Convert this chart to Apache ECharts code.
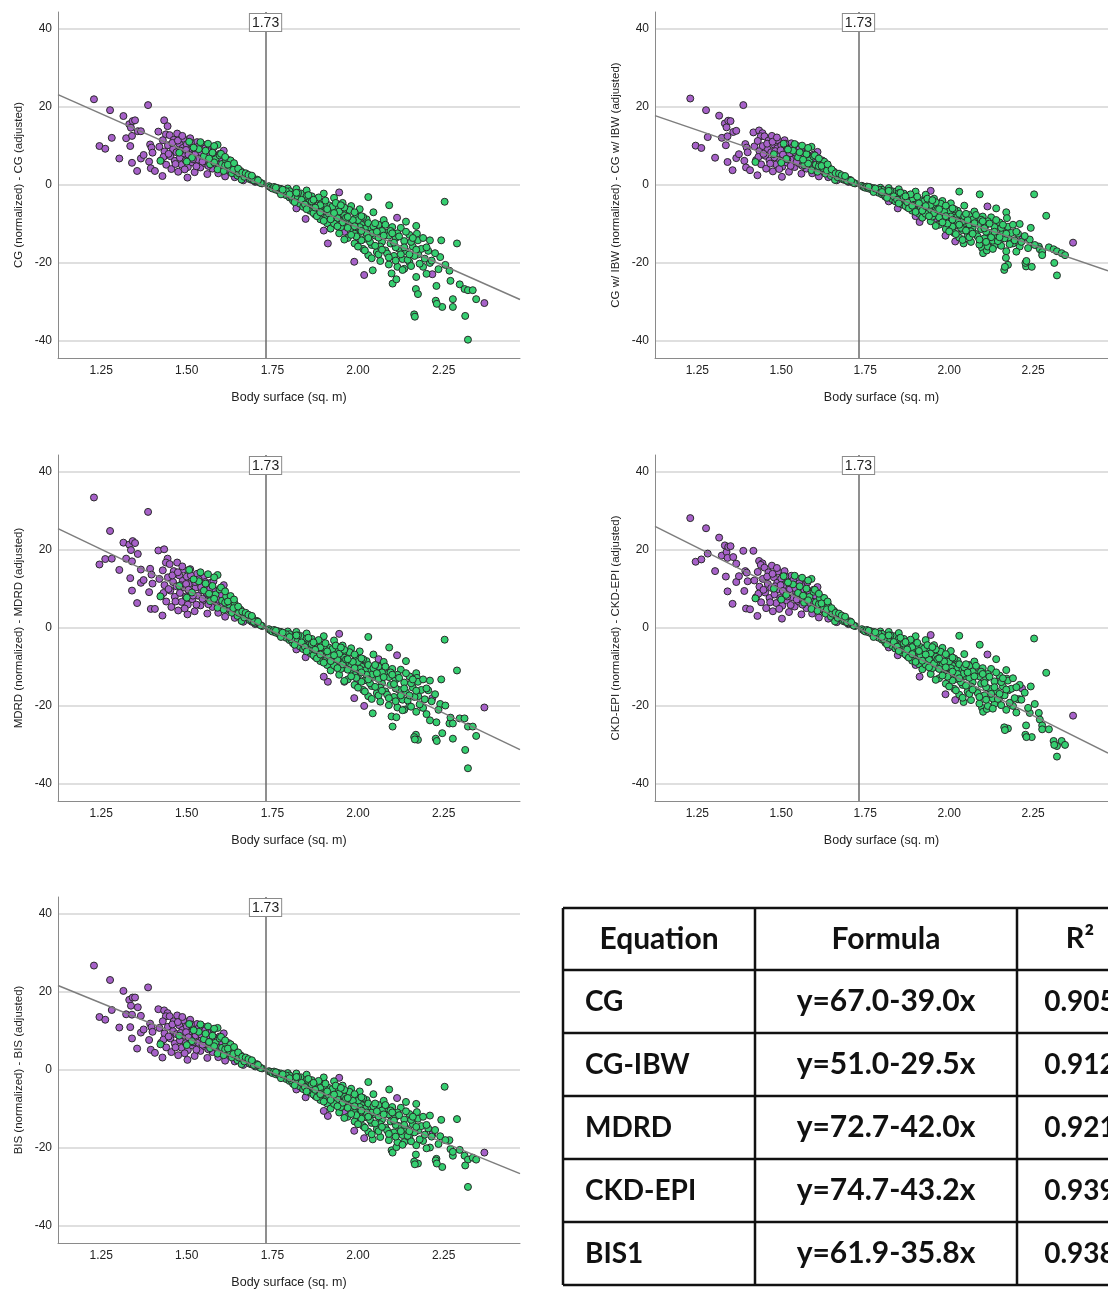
<!DOCTYPE html>
<html>
<head>
<meta charset="utf-8">
<script src="https://cdn.jsdelivr.net/npm/echarts@6/dist/echarts.min.js"></script>
<style>
html,body{margin:0;padding:0;background:#fff;}
#chart{width:1108px;height:1292px;}
</style>
</head>
<body>
<div id="chart"></div>
<script>
// ---------------- DATA ----------------
const xTickValues = [1.25, 1.50, 1.75, 2.00, 2.25];
const yTickValues = [-40, -20, 0, 20, 40];
const refBSA = 1.73;
const xLabel = 'Body surface (sq. m)';
const yLabels = [
  'CG (normalized) - CG (adjusted)',
  'CG w/ IBW (normalized) - CG w/ IBW (adjusted)',
  'MDRD (normalized) - MDRD (adjusted)',
  'CKD-EPI (normalized) - CKD-EPI (adjusted)',
  'BIS (normalized) - BIS (adjusted)'
];

// fit line end values (at the left / right plot edges)
const fitX = [1.124, 2.473];
const fitCG = [23.2, -29.4];
const fitIBW = [17.8, -22.0];
const fitMDRD = [25.5, -31.2];
const fitCKD = [26.1, -32.1];
const fitBIS = [21.7, -26.6];

// table
const tableHeaders = ['Equation', 'Formula', 'R²'];
const tableEquations = ['CG', 'CG-IBW', 'MDRD', 'CKD-EPI', 'BIS1'];
const tableFormulas = ['y=67.0-39.0x', 'y=51.0-29.5x', 'y=72.7-42.0x', 'y=74.7-43.2x', 'y=61.9-35.8x'];
const tableR2 = ['0.905', '0.912', '0.921', '0.939', '0.938'];

// female (purple) patients
const femaleBSA = [
 1.229,1.245,1.262,1.276,1.281,1.303,1.315,1.323,1.332,1.337,1.342,1.335,1.340,1.340,1.349,1.355,1.357,1.366,1.366,1.374,1.387,1.390,1.393,1.397,1.400,1.395,1.407,1.417,1.429,1.434,1.444,1.439,1.502,
 1.420,1.425,1.430,1.435,1.440,1.445,1.450,1.452,1.455,1.460,1.462,1.465,1.470,1.472,1.475,1.478,1.480,1.485,1.488,1.490,1.493,1.497,1.500,1.503,1.506,1.510,1.513,1.516,1.520,1.523,1.526,1.530,1.533,1.537,1.540,1.544,1.548,1.552,1.556,1.560,1.565,1.570,1.575,1.580,1.586,1.592,1.598,1.605,1.612,1.608,1.628,1.640,1.655,1.665,1.690,
 1.680,1.700,
 2.114,1.912,1.989,2.018,2.217,2.369,1.847,1.820,1.900,1.945,2.000,1.960,2.060,
 1.432,1.447,1.458,1.467,1.474,1.482,1.487,1.494,1.498,1.505,1.512,1.518,1.524,1.528,1.535,1.542,1.546,1.554,1.558,1.563,1.568,1.573,1.578,1.584,1.590,1.596,1.602,1.618,1.622,1.635
];
const femaleCG = [
 22.0,10.0,9.3,19.2,12.1,6.8,17.7,12.0,15.6,14.7,16.4,10.0,12.6,5.7,16.6,3.6,13.8,13.8,6.8,7.7,20.5,6.0,10.4,9.6,8.3,4.3,3.6,13.7,2.3,16.6,15.1,13.0,1.9,
 9.8,6.3,11.5,8.6,5.2,10.2,12.8,7.4,4.1,9.2,11.6,6.2,8.4,13.2,3.4,10.6,7.0,5.2,9.5,11.9,8.1,6.3,10.4,4.6,8.9,12.0,7.2,5.8,9.8,3.3,8.2,11.0,6.5,9.1,4.5,7.6,10.3,5.6,8.4,2.8,6.9,9.2,4.2,7.4,5.3,3.0,6.4,4.6,2.2,8.8,3.5,2.0,3.1,1.2,1.3,
 2.2,0.8,
 -8.4,-15.0,-19.7,-23.1,-22.9,-30.3,-8.7,-6.0,-11.7,-1.9,-14.5,-12.0,-16.0,
 7.2,8.0,10.8,5.4,11.4,8.8,12.6,4.0,9.0,7.8,10.8,6.6,9.4,4.8,10.0,8.4,6.0,9.4,7.2,4.9,8.0,6.0,9.6,7.6,5.8,8.0,6.8,4.0,6.4,4.6
];
const femaleIBW = [
 22.2,10.1,9.5,19.2,12.3,7.0,17.8,12.1,15.8,14.8,16.5,10.2,12.5,5.9,16.4,3.8,13.6,13.9,6.9,7.9,20.5,6.2,10.5,9.6,8.4,4.5,3.8,13.5,2.5,14.0,13.3,12.5,2.1,
 9.9,6.4,11.3,8.7,5.3,10.0,12.5,7.5,4.2,9.1,11.4,6.3,8.4,12.6,3.5,10.4,7.1,5.3,9.4,11.5,8.1,6.3,10.2,4.7,8.8,11.5,7.2,5.8,9.6,3.4,8.1,10.7,6.5,8.9,4.6,7.5,10.0,5.6,8.2,2.9,6.8,8.9,4.2,7.2,5.2,3.0,6.2,4.5,2.2,8.5,3.4,2.0,3.0,1.2,1.3,
 2.2,0.8,
 -5.5,-9.5,-13.0,-14.5,-14.0,-14.8,-6.0,-4.2,-8.0,-1.5,-10.0,-8.5,-11.0,
 7.2,8.0,10.6,5.5,11.1,8.7,12.2,4.1,8.9,7.8,10.6,6.6,9.3,4.9,9.8,8.3,6.0,9.2,7.1,4.9,7.9,6.0,9.4,7.5,5.8,7.8,6.7,4.0,6.3,4.5
];
const femaleMDRD = [
 33.5,16.3,17.7,24.9,17.8,14.9,21.9,17.8,21.4,20.0,22.3,12.8,17.1,9.6,21.8,6.4,19.0,15.0,11.6,12.3,29.8,9.2,15.2,13.7,11.4,4.9,4.9,19.9,3.2,20.2,17.8,16.8,3.5,
 12.6,8.3,14.8,11.0,6.8,13.0,16.4,9.6,5.4,11.8,14.6,8.0,10.7,16.8,4.5,13.5,9.0,6.7,12.1,15.0,10.4,8.1,13.2,6.0,11.3,15.1,9.2,7.4,12.4,4.3,10.4,13.9,8.3,11.5,5.8,9.7,13.0,7.2,10.6,3.7,8.7,11.6,5.4,9.3,6.7,3.9,8.1,5.8,2.9,11.0,4.4,2.6,3.9,1.6,1.6,
 2.9,1.0,
 -7.0,-13.8,-18.0,-20.0,-18.0,-20.4,-7.5,-5.5,-12.5,-1.5,-13.5,-13.8,-8.0,
 9.0,10.0,13.5,6.8,14.3,11.0,15.8,5.0,11.3,9.8,13.5,8.3,11.8,6.0,12.5,10.5,7.5,11.8,9.0,6.1,10.0,7.5,12.0,9.5,7.3,10.0,8.5,5.0,8.0,5.8
];
const femaleCKD = [
 28.2,17.0,17.6,25.6,19.1,14.6,23.2,18.6,21.2,19.5,20.8,13.2,18.0,9.4,21.0,6.2,18.2,16.5,11.8,13.3,19.8,9.5,14.6,14.2,12.0,5.0,4.8,19.8,3.1,17.2,16.6,16.2,2.4,
 12.2,7.9,14.4,10.6,6.6,12.6,15.5,9.1,5.1,11.3,14.3,7.7,10.3,16.0,4.3,13.0,8.6,6.4,11.6,14.5,9.9,7.7,12.7,5.7,10.9,14.6,8.8,7.1,11.9,4.1,10.0,13.4,7.9,11.1,5.5,9.3,12.6,6.8,10.2,3.5,8.4,11.1,5.1,9.0,6.4,3.7,7.7,5.5,2.7,10.5,4.2,2.4,3.7,1.5,1.6,
 2.7,1.0,
 -6.8,-12.5,-17.0,-18.5,-15.5,-22.5,-7.0,-5.0,-9.5,-1.8,-12.0,-10.0,-9.5,
 8.8,9.8,13.2,6.6,13.9,10.7,15.4,4.9,11.0,9.5,13.2,8.1,11.5,5.9,12.2,10.2,7.3,11.5,8.8,6.0,9.8,7.3,11.7,9.3,7.1,9.8,8.3,4.9,7.8,5.6
];
const femaleBIS = [
 26.8,13.6,12.9,23.1,15.4,10.9,20.3,14.3,18.0,16.5,18.6,11.0,14.2,8.1,18.6,5.5,16.1,13.9,9.6,10.4,21.2,7.7,11.9,11.0,9.8,5.2,4.4,15.6,3.2,15.3,14.6,13.8,2.6,
 10.8,7.0,12.5,9.4,5.8,11.1,13.8,8.1,4.6,10.0,12.5,6.8,9.2,14.0,3.8,11.5,7.6,5.7,10.3,12.8,8.8,6.9,11.2,5.1,9.6,12.9,7.8,6.3,10.6,3.6,8.9,11.8,7.0,9.8,4.9,8.2,11.1,6.1,9.0,3.1,7.4,9.9,4.6,8.0,5.7,3.3,6.9,5.0,2.4,9.4,3.8,2.2,3.3,1.3,1.4,
 2.4,0.9,
 -7.2,-11.8,-15.6,-17.5,-16.5,-21.2,-7.0,-5.0,-10.5,-2.0,-12.8,-11.0,-10.0,
 7.8,8.6,11.7,5.8,12.3,9.5,13.6,4.3,9.7,8.4,11.7,7.1,10.2,5.2,10.8,9.1,6.5,10.2,7.8,5.3,8.6,6.5,10.4,8.2,6.3,8.6,7.3,4.3,6.9,5.0
];

// male (green) patients
const maleBSA = [
 1.423,1.478,1.507,1.515,1.535,1.550,1.562,1.568,1.575,1.584,1.590,1.596,1.603,1.608,1.615,1.623,1.632,1.640,1.648,1.657,1.665,1.676,1.684,1.692,1.700,1.705,1.712,1.720,1.660,1.644,1.590,1.628,
 1.636,1.652,1.668,1.688,1.696,1.716,1.580,1.612,
 2.253,2.030,2.091,2.140,2.170,2.172,2.210,2.243,2.289, 2.043,2.098,2.101,2.112,2.170,2.169,2.175,2.164,2.166,
 2.210,2.229,2.227,2.246,2.267,2.270,2.277,2.277,2.297,2.311,2.321,2.335,2.345, 2.313,2.321,2.176,2.205,2.240,2.150,2.135,2.190, 2.230,
 1.740,1.745,1.750,1.755,1.760,1.765,1.770,1.775,1.780,1.785,
 1.790,1.795,1.800,1.805,1.810,1.815,1.820,1.825,1.830,1.835,
 1.840,1.845,1.850,1.855,1.860,1.865,1.870,1.875,1.880,1.885,
 1.890,1.895,1.900,1.905,1.910,1.915,1.920,1.925,1.930,1.935,
 1.940,1.945,1.950,1.955,1.960,1.965,1.970,1.975,1.980,1.985,
 1.990,1.995,2.000,2.005,2.010,2.015,2.020,2.025,2.030,2.035,
 2.040,2.045,2.050,2.055,2.060,2.065,2.070,2.075,2.080,2.085,
 2.090,2.095,2.100,2.105,2.110,2.115,2.120,2.125,2.130,2.135,
 2.140,2.150,2.155,2.160,2.165,2.175,2.180,2.185,2.195,2.200,
 2.215,2.225,2.235,2.255,1.860,1.880,1.900,1.920,1.940,1.960,
 1.980,2.000,2.020,2.040,2.060,1.970,1.990,2.010,1.930,1.910,
 1.890,1.870,1.950,2.030,2.070,2.090,2.110,1.820,1.800,1.850,
 1.775,1.790,1.805,1.815,1.825,1.835,1.845,1.855,1.865,1.875,
 1.885,1.895,1.905,1.915,1.925,1.935,1.945,1.955,1.965,1.975,
 1.985,1.995,2.005,2.015,2.025,2.035,2.045,2.055,2.065,2.075,
 2.085,2.095,2.105,2.115,2.125,2.135,2.145,2.155,2.170,2.190,
 1.880,1.900,1.920,1.940,1.960,1.980,2.000,2.020,2.040,2.060,
 1.960,1.990,2.010,2.050,2.080,2.100,2.120,2.140,2.160,2.200,
 1.850,1.870,1.890,1.910,1.930,1.950,1.970,1.990,2.010,2.030,
 2.050,2.070,2.090,2.110,2.130,2.150,1.760,1.780,1.800,1.820,
 1.520,1.540,1.555,1.565,1.580,1.600,1.612,1.620,1.638,1.650,1.662,1.672,1.680,1.690,1.708,1.500
];
const maleCG = [
 6.2,8.3,11.1,7.0,9.2,7.4,10.6,5.3,8.3,6.6,4.0,7.6,5.4,3.6,6.2,4.6,3.0,4.8,2.4,3.6,2.6,2.3,1.5,2.0,1.0,1.4,0.7,0.4,1.4,3.6,10.3,6.3,
 3.9,3.0,2.1,1.6,1.2,0.5,5.8,5.0,
 -4.3,-3.1,-5.2,-9.4,-10.5,-12.5,-14.2,-14.2,-15.0, -21.9,-22.7,-25.3,-24.2,-23.6,-26.7,-28.0,-33.2,-33.8,
 -20.0,-25.9,-29.7,-31.3,-22.0,-24.6,-29.3,-31.3,-25.5,-26.7,-27.0,-27.0,-29.3, -33.6,-39.7,-17.8,-16.9,-18.5,-19.8,-21.5,-21.0, -30.5,
 -0.3,-0.6,-0.9,-0.5,-1.2,-0.8,-1.6,-1.0,-2.0,-1.4,
 -2.6,-0.9,-3.2,-1.9,-4.0,-2.6,-1.0,-3.4,-4.8,-2.2,
 -5.6,-3.8,-1.4,-4.6,-6.6,-2.9,-5.4,-7.6,-3.6,-6.2,
 -8.8,-4.4,-2.2,-7.0,-9.8,-5.2,-11.2,-7.8,-3.3,-9.0,
 -6.0,-12.4,-8.2,-4.6,-10.4,-7.0,-13.6,-9.4,-5.4,-11.6,
 -15.0,-8.0,-12.6,-6.2,-10.2,-16.4,-13.8,-8.8,-18.0,-11.4,
 -15.4,-7.0,-13.0,-17.2,-10.2,-19.5,-14.6,-9.0,-16.8,-12.2,
 -20.4,-15.0,-10.8,-18.2,-13.6,-21.0,-16.4,-11.0,-19.0,-14.4,
 -17.0,-12.8,-20.8,-15.8,-18.2,-14.2,-20.2,-16.4,-18.9,-22.8,
 -19.4,-17.5,-21.6,-20.5,-4.0,-6.0,-5.0,-6.5,-8.5,-7.8,
 -10.0,-9.0,-11.2,-12.4,-13.5,-11.0,-12.5,-14.2,-9.9,-8.0,
 -5.2,-7.2,-10.8,-9.8,-11.8,-13.0,-16.0,-3.0,-1.6,-2.8,
 -2.4,-1.6,-3.0,-4.4,-2.0,-3.8,-5.0,-2.6,-4.2,-5.8,
 -3.2,-6.8,-4.0,-7.4,-5.6,-4.6,-6.8,-9.6,-8.4,-6.4,
 -9.0,-13.2,-10.8,-8.2,-12.4,-14.6,-10.6,-12.0,-15.8,-13.0,
 -17.6,-11.8,-14.8,-12.4,-17.8,-16.0,-19.2,-14.6,-16.6,-13.6,
 -8.0,-9.2,-8.8,-10.6,-14.0,-12.8,-15.8,-16.8,-18.8,-17.8,
 -5.8,-7.0,-8.0,-9.8,-10.2,-12.4,-13.2,-12.0,-13.6,-16.0,
 -6.2,-3.8,-7.0,-6.2,-7.2,-5.2,-8.2,-10.6,-11.8,-13.6,
 -15.6,-16.6,-18.6,-19.4,-21.8,-17.8,-0.7,-1.2,-2.4,-2.0,
 9.6,11.0,8.8,6.8,10.0,8.0,7.2,5.2,5.6,4.2,3.2,3.0,2.6,2.4,1.2,6.0
];
const maleIBW = [
 5.9,7.9,10.6,6.7,8.8,7.1,10.1,5.1,7.9,6.3,3.8,7.3,5.2,3.4,5.9,4.4,2.9,4.6,2.3,3.4,2.5,2.2,1.4,1.9,1.0,1.3,0.7,0.4,1.3,3.4,9.8,6.0,
 3.7,2.9,2.0,1.5,1.1,0.5,5.5,4.8,
 -2.4,-1.7,-2.4,-6.0,-7.0,-8.5,-10.0,-11.0,-7.9, -15.0,-16.2,-17.5,-16.8,-17.0,-18.7,-20.5,-21.8,-21.0,
 -15.8,-20.9,-20.0,-21.0,-15.8,-16.5,-17.2,-18.0,-16.0,-16.5,-17.0,-17.5,-18.0, -20.0,-23.2,-13.5,-12.5,-14.0,-14.5,-15.5,-15.0, -19.5,
 -0.2,-0.5,-0.7,-0.4,-0.9,-0.6,-1.2,-0.8,-1.5,-1.1,
 -2.0,-0.7,-2.4,-1.4,-3.0,-2.0,-0.8,-2.6,-3.6,-1.7,
 -4.2,-2.9,-1.1,-3.5,-5.0,-2.2,-4.1,-5.7,-2.7,-4.7,
 -6.6,-3.3,-1.7,-5.3,-7.4,-3.9,-8.4,-5.9,-2.5,-6.8,
 -4.5,-9.3,-6.2,-3.5,-7.8,-5.3,-10.2,-7.1,-4.1,-8.7,
 -11.3,-6.0,-9.5,-4.7,-7.7,-12.3,-10.4,-6.6,-13.5,-8.6,
 -11.6,-5.3,-9.8,-12.9,-7.7,-14.6,-11.0,-6.8,-12.6,-9.2,
 -15.3,-11.3,-8.1,-13.7,-10.2,-15.8,-12.3,-8.3,-14.3,-10.8,
 -12.8,-9.6,-15.6,-11.9,-13.7,-10.7,-15.2,-12.3,-14.2,-17.1,
 -14.6,-13.1,-16.2,-15.4,-3.0,-4.5,-3.8,-4.9,-6.4,-5.9,
 -7.5,-6.8,-8.4,-9.3,-10.1,-8.3,-9.4,-10.7,-7.4,-6.0,
 -3.9,-5.4,-8.1,-7.4,-8.9,-9.8,-12.0,-2.3,-1.2,-2.1,
 -1.8,-1.2,-2.3,-3.3,-1.5,-2.9,-3.8,-2.0,-3.2,-4.4,
 -2.4,-5.1,-3.0,-5.6,-4.2,-3.5,-5.1,-7.2,-6.3,-4.8,
 -6.8,-9.9,-8.1,-6.2,-9.3,-11.0,-8.0,-9.0,-11.9,-9.8,
 -13.2,-8.9,-11.1,-9.3,-13.4,-12.0,-14.4,-11.0,-12.5,-10.2,
 -6.0,-6.9,-6.6,-8.0,-10.5,-9.6,-11.9,-12.6,-14.1,-13.4,
 -4.4,-5.3,-6.0,-7.4,-7.7,-9.3,-9.9,-9.0,-10.2,-12.0,
 -4.7,-2.9,-5.3,-4.7,-5.4,-3.9,-6.2,-8.0,-8.9,-10.2,
 -11.7,-12.5,-14.0,-14.6,-16.4,-13.4,-0.5,-0.9,-1.8,-1.5,
 9.1,10.5,8.4,6.5,9.5,7.6,6.8,4.9,5.3,4.0,3.0,2.9,2.5,2.3,1.1,5.7
];
const maleMDRD = [
 8.1,10.8,14.9,9.1,12.0,9.6,13.8,6.9,10.8,8.6,5.2,9.9,7.0,4.7,8.1,6.0,3.9,6.2,3.1,4.7,3.4,3.0,2.0,2.6,1.3,1.8,0.9,0.5,1.8,4.7,13.6,8.2,
 5.1,3.9,2.7,2.1,1.6,0.7,7.5,6.5,
 -3.0,-2.3,-5.0,-8.5,-11.6,-12.8,-13.5,-13.2,-10.9, -21.9,-22.7,-25.3,-22.9,-21.5,-27.4,-28.7,-28.0,-28.6,
 -23.7,-24.2,-28.4,-27.0,-24.5,-23.0,-28.4,-24.5,-23.2,-23.2,-25.3,-25.3,-27.7, -31.3,-36.0,-17.5,-16.0,-19.5,-20.0,-21.0,-20.5, -29.0,
 -0.3,-0.6,-0.9,-0.5,-1.2,-0.8,-1.6,-1.0,-1.9,-1.4,
 -2.5,-0.9,-3.1,-1.8,-3.9,-2.5,-1.0,-3.3,-4.7,-2.1,
 -5.4,-3.7,-1.4,-4.5,-6.4,-2.8,-5.2,-7.4,-3.5,-6.0,
 -8.5,-4.3,-2.1,-6.8,-9.5,-5.0,-10.9,-7.6,-3.2,-8.7,
 -5.8,-12.0,-8.0,-4.5,-10.1,-6.8,-13.2,-9.1,-5.2,-11.3,
 -14.6,-7.8,-12.2,-6.0,-9.9,-15.9,-13.4,-8.5,-17.5,-11.1,
 -14.9,-6.8,-12.6,-16.7,-9.9,-18.9,-14.2,-8.7,-16.3,-11.8,
 -19.8,-14.6,-10.5,-17.7,-13.2,-20.4,-15.9,-10.7,-18.4,-14.0,
 -16.5,-12.4,-20.2,-15.3,-17.7,-13.8,-19.6,-15.9,-18.3,-22.1,
 -18.8,-17.0,-21.0,-19.9,-3.9,-5.8,-4.9,-6.3,-8.2,-7.6,
 -9.7,-8.7,-10.9,-12.0,-13.1,-10.7,-12.1,-13.8,-9.6,-7.8,
 -5.0,-7.0,-10.5,-9.5,-11.4,-12.6,-15.5,-2.9,-1.6,-2.7,
 -2.3,-1.6,-2.9,-4.3,-1.9,-3.7,-4.9,-2.5,-4.1,-5.6,
 -3.1,-6.6,-3.9,-7.2,-5.4,-4.5,-6.6,-9.3,-8.1,-6.2,
 -8.7,-12.8,-10.5,-8.0,-12.0,-14.2,-10.3,-11.6,-15.3,-12.6,
 -17.1,-11.4,-14.4,-12.0,-17.3,-15.5,-18.6,-14.2,-16.1,-13.2,
 -7.8,-8.9,-8.5,-10.3,-13.6,-12.4,-15.3,-16.3,-18.2,-17.3,
 -5.6,-6.8,-7.8,-9.5,-9.9,-12.0,-12.8,-11.6,-13.2,-15.5,
 -6.0,-3.7,-6.8,-6.0,-7.0,-5.0,-8.0,-10.3,-11.4,-13.2,
 -15.1,-16.1,-18.0,-18.8,-21.1,-17.3,-0.7,-1.2,-2.3,-1.9,
 12.5,14.3,11.4,8.8,13.0,10.4,9.4,6.8,7.3,5.5,4.2,3.9,3.4,3.1,1.6,7.8
];
const maleCKD = [
 7.6,10.1,13.3,8.5,11.2,9.0,12.9,6.5,10.1,8.0,4.9,9.3,6.6,4.4,7.6,5.6,3.7,5.9,2.9,4.4,3.2,2.8,1.8,2.4,1.2,1.7,0.9,0.5,1.7,4.4,12.6,7.7,
 4.8,3.7,2.6,2.0,1.5,0.6,7.1,6.1,
 -2.7,-2.0,-4.3,-8.0,-10.8,-13.0,-14.6,-15.0,-11.5, -19.0,-20.5,-21.5,-20.8,-21.0,-25.8,-25.8,-25.5,-26.2,
 -18.3,-25.0,-27.4,-28.0,-21.8,-23.5,-25.0,-26.0,-26.0,-29.0,-30.3,-29.0,-30.0, -30.0,-33.0,-16.0,-18.3,-21.8,-18.0,-19.5,-20.0, -28.0,
 -0.3,-0.6,-0.9,-0.5,-1.1,-0.8,-1.5,-1.0,-1.9,-1.3,
 -2.5,-0.9,-3.0,-1.8,-3.8,-2.5,-1.0,-3.2,-4.6,-2.1,
 -5.3,-3.6,-1.3,-4.4,-6.3,-2.8,-5.1,-7.2,-3.4,-5.9,
 -8.4,-4.2,-2.1,-6.7,-9.3,-4.9,-10.6,-7.4,-3.1,-8.6,
 -5.7,-11.8,-7.8,-4.4,-9.9,-6.7,-12.9,-8.9,-5.1,-11.0,
 -14.3,-7.6,-12.0,-5.9,-9.7,-15.6,-13.1,-8.4,-17.1,-10.8,
 -14.6,-6.7,-12.4,-16.3,-9.7,-18.5,-13.9,-8.6,-16.0,-11.6,
 -19.4,-14.3,-10.3,-17.3,-12.9,-20.0,-15.6,-10.5,-18.1,-13.7,
 -16.2,-12.2,-19.8,-15.0,-17.3,-13.5,-19.2,-15.6,-18.0,-21.7,
 -18.4,-16.6,-20.5,-19.5,-3.8,-5.7,-4.8,-6.2,-8.1,-7.4,
 -9.5,-8.6,-10.6,-11.8,-12.8,-10.5,-11.9,-13.5,-9.4,-7.6,
 -4.9,-6.8,-10.3,-9.3,-11.2,-12.4,-15.2,-2.9,-1.5,-2.7,
 -2.3,-1.5,-2.9,-4.2,-1.9,-3.6,-4.8,-2.5,-4.0,-5.5,
 -3.0,-6.5,-3.8,-7.0,-5.3,-4.4,-6.5,-9.1,-8.0,-6.1,
 -8.6,-12.5,-10.3,-7.8,-11.8,-13.9,-10.1,-11.4,-15.0,-12.4,
 -16.7,-11.2,-14.1,-11.8,-16.9,-15.2,-18.2,-13.9,-15.8,-12.9,
 -7.6,-8.7,-8.4,-10.1,-13.3,-12.2,-15.0,-16.0,-17.9,-16.9,
 -5.5,-6.7,-7.6,-9.3,-9.7,-11.8,-12.5,-11.4,-12.9,-15.2,
 -5.9,-3.6,-6.7,-5.9,-6.8,-4.9,-7.8,-10.1,-11.2,-12.9,
 -14.8,-15.8,-17.7,-18.4,-20.7,-16.9,-0.7,-1.1,-2.3,-1.9,
 11.7,13.4,10.7,8.3,12.2,9.8,8.8,6.3,6.8,5.1,3.9,3.7,3.2,2.9,1.5,7.3
];
const maleBIS = [
 6.6,8.8,11.8,7.4,9.8,7.9,11.2,5.6,8.8,7.0,4.2,8.1,5.7,3.8,6.6,4.9,3.2,5.1,2.5,3.8,2.8,2.4,1.6,2.1,1.1,1.5,0.7,0.4,1.5,3.8,10.8,6.6,
 4.1,3.2,2.2,1.7,1.3,0.5,6.1,5.3,
 -4.3,-3.1,-5.0,-8.2,-8.7,-10.8,-11.7,-12.8,-12.6, -17.8,-20.6,-21.2,-19.8,-19.3,-21.7,-24.0,-23.5,-24.2,
 -19.9,-22.8,-23.2,-24.9,-18.0,-20.3,-22.0,-21.0,-20.5,-22.0,-23.0,-22.5,-23.0, -24.5,-30.0,-15.5,-15.0,-17.0,-17.2,-18.5,-18.2, -24.0,
 -0.3,-0.5,-0.8,-0.4,-1.1,-0.7,-1.4,-0.9,-1.8,-1.2,
 -2.3,-0.8,-2.8,-1.7,-3.5,-2.3,-0.9,-3.0,-4.2,-1.9,
 -4.9,-3.3,-1.2,-4.0,-5.8,-2.6,-4.8,-6.7,-3.2,-5.5,
 -7.7,-3.9,-1.9,-6.2,-8.6,-4.6,-9.9,-6.9,-2.9,-7.9,
 -5.3,-10.9,-7.2,-4.0,-9.2,-6.2,-12.0,-8.3,-4.8,-10.2,
 -13.2,-7.0,-11.1,-5.5,-9.0,-14.4,-12.1,-7.7,-15.8,-10.0,
 -13.6,-6.2,-11.4,-15.1,-9.0,-17.2,-12.8,-7.9,-14.8,-10.7,
 -18.0,-13.2,-9.5,-16.0,-12.0,-18.5,-14.4,-9.7,-16.7,-12.7,
 -15.0,-11.3,-18.3,-13.9,-16.0,-12.5,-17.8,-14.4,-16.6,-20.1,
 -17.1,-15.4,-19.0,-18.0,-3.5,-5.3,-4.4,-5.7,-7.5,-6.9,
 -8.8,-7.9,-9.9,-10.9,-11.9,-9.7,-11.0,-12.5,-8.7,-7.0,
 -4.6,-6.3,-9.5,-8.6,-10.4,-11.4,-14.1,-2.6,-1.4,-2.5,
 -2.1,-1.4,-2.6,-3.9,-1.8,-3.3,-4.4,-2.3,-3.7,-5.1,
 -2.8,-6.0,-3.5,-6.5,-4.9,-4.0,-6.0,-8.4,-7.4,-5.6,
 -7.9,-11.6,-9.5,-7.2,-10.9,-12.8,-9.3,-10.6,-13.9,-11.4,
 -15.5,-10.4,-13.0,-10.9,-15.7,-14.1,-16.9,-12.8,-14.6,-12.0,
 -7.0,-8.1,-7.7,-9.3,-12.3,-11.3,-13.9,-14.8,-16.5,-15.7,
 -5.1,-6.2,-7.0,-8.6,-9.0,-10.9,-11.6,-10.6,-12.0,-14.1,
 -5.5,-3.3,-6.2,-5.5,-6.3,-4.6,-7.2,-9.3,-10.4,-12.0,
 -13.7,-14.6,-16.4,-17.1,-19.2,-15.7,-0.6,-1.1,-2.1,-1.8,
 10.2,11.7,9.3,7.2,10.6,8.5,7.6,5.5,5.9,4.5,3.4,3.2,2.8,2.5,1.3,6.4
];

// ---------------- LAYOUT / STYLE ----------------
const panelYF = [femaleCG, femaleIBW, femaleMDRD, femaleCKD, femaleBIS];
const panelYM = [maleCG, maleIBW, maleMDRD, maleCKD, maleBIS];
const panelFit = [fitCG, fitIBW, fitMDRD, fitCKD, fitBIS];
const panelPos = [[58, 12], [655, 12], [58, 455], [655, 455], [58, 897]];
const PW = 462, PH = 346;
const AX_FONT = 'Liberation Sans, Arial, sans-serif';
const purple = '#a761c9', green = '#35cf70', edge = '#2a2a2a';

function pairs(xs, ys) {
  const n = Math.min(xs.length, ys.length);
  if (xs.length !== ys.length) console.warn('length mismatch', xs.length, ys.length);
  const out = [];
  for (let i = 0; i < n; i++) out.push([xs[i], ys[i]]);
  return out;
}

const grids = [], xAxes = [], yAxes = [], series = [];
panelPos.forEach((p, i) => {
  grids.push({left: p[0], top: p[1], width: PW, height: PH, containLabel: false});
  xAxes.push({
    type: 'value', gridIndex: i, min: 1.124, max: 2.473,
    axisLine: {show: true, onZero: false, lineStyle: {color: '#8a8a8a', width: 1}},
    axisTick: {show: false, customValues: xTickValues},
    axisLabel: {customValues: xTickValues, formatter: v => v.toFixed(2), color: '#222', fontSize: 12, fontFamily: AX_FONT, margin: 7},
    splitLine: {show: false},
    name: xLabel, nameLocation: 'middle', nameGap: 33,
    nameTextStyle: {color: '#222', fontSize: 12.5, fontFamily: AX_FONT}
  });
  yAxes.push({
    type: 'value', gridIndex: i, min: -44.4, max: 44.4,
    axisLine: {show: true, onZero: false, lineStyle: {color: '#8a8a8a', width: 1}},
    axisTick: {show: false, customValues: yTickValues},
    axisLabel: {customValues: yTickValues, color: '#222', fontSize: 12, fontFamily: AX_FONT, margin: 6},
    splitLine: {show: true, lineStyle: {color: '#d5d5d5', width: 1.5}},
    name: yLabels[i], nameLocation: 'middle', nameGap: 33, nameRotate: 90,
    nameTextStyle: {color: '#222', fontSize: 11.5, fontFamily: AX_FONT}
  });
  series.push({
    type: 'scatter', xAxisIndex: i, yAxisIndex: i, z: 2,
    data: pairs(femaleBSA, panelYF[i]), symbolSize: 7,
    itemStyle: {color: purple, borderColor: edge, borderWidth: 1, opacity: 1}
  });
  series.push({
    type: 'scatter', xAxisIndex: i, yAxisIndex: i, z: 3,
    data: pairs(maleBSA, panelYM[i]), symbolSize: 7,
    itemStyle: {color: green, borderColor: edge, borderWidth: 1, opacity: 1}
  });
  series.push({
    type: 'line', xAxisIndex: i, yAxisIndex: i, z: 4, clip: true,
    data: pairs(fitX, panelFit[i]), symbol: 'none', silent: true,
    lineStyle: {color: '#7d7d7d', width: 1.5},
    markLine: {
      silent: true, symbol: 'none', animation: false,
      data: [{xAxis: refBSA}],
      lineStyle: {color: '#6a6a6a', width: 1.5, type: 'solid'},
      label: {
        show: true, position: 'end', distance: -19, formatter: String(refBSA),
        backgroundColor: '#fff', borderColor: '#8a8a8a', borderWidth: 1,
        padding: [2, 2, 1, 2], color: '#222', fontSize: 14, fontFamily: AX_FONT
      }
    }
  });
});

// ---------------- TABLE (graphic) ----------------
const T = {left: 563, top: 908, colX: [563, 755, 1017, 1143], rowH: 63, headH: 62};
const graphics = [];
const rowsY = [T.top, T.top + T.headH];
for (let r = 1; r <= tableEquations.length; r++) rowsY.push(T.top + T.headH + r * T.rowH);
const tBottom = rowsY[rowsY.length - 1];
const LW = 2.5;
rowsY.forEach(y => graphics.push({type: 'line', shape: {x1: T.colX[0], y1: y, x2: T.colX[3], y2: y}, style: {stroke: '#111', lineWidth: LW}}));
T.colX.forEach(x => graphics.push({type: 'line', shape: {x1: x, y1: T.top, x2: x, y2: tBottom}, style: {stroke: '#111', lineWidth: LW}}));
const TF = 'Lato, "Open Sans", sans-serif';
function cellText(txt, x, y, align, size) {
  graphics.push({type: 'text', x: x, y: y, style: {text: txt, fill: '#111', font: 'bold ' + size + 'px ' + TF, align: align, verticalAlign: 'middle'}});
}
const headMid = (rowsY[0] + rowsY[1]) / 2;
cellText(tableHeaders[0], (T.colX[0] + T.colX[1]) / 2, headMid, 'center', 30);
cellText(tableHeaders[1], (T.colX[1] + T.colX[2]) / 2, headMid, 'center', 30);
cellText(tableHeaders[2], (T.colX[2] + T.colX[3]) / 2, headMid, 'center', 29);
tableEquations.forEach((eq, r) => {
  const y = (rowsY[r + 1] + rowsY[r + 2]) / 2;
  cellText(eq, T.colX[0] + 22, y, 'left', 28);
  cellText(tableFormulas[r], (T.colX[1] + T.colX[2]) / 2, y, 'center', 30);
  cellText(tableR2[r], (T.colX[2] + T.colX[3]) / 2, y, 'center', 28);
});

const chart = echarts.init(document.getElementById('chart'), null, {renderer: 'canvas'});
chart.setOption({
  backgroundColor: '#fff',
  animation: false,
  grid: grids, xAxis: xAxes, yAxis: yAxes, series: series,
  graphic: graphics
});
</script>
</body>
</html>
